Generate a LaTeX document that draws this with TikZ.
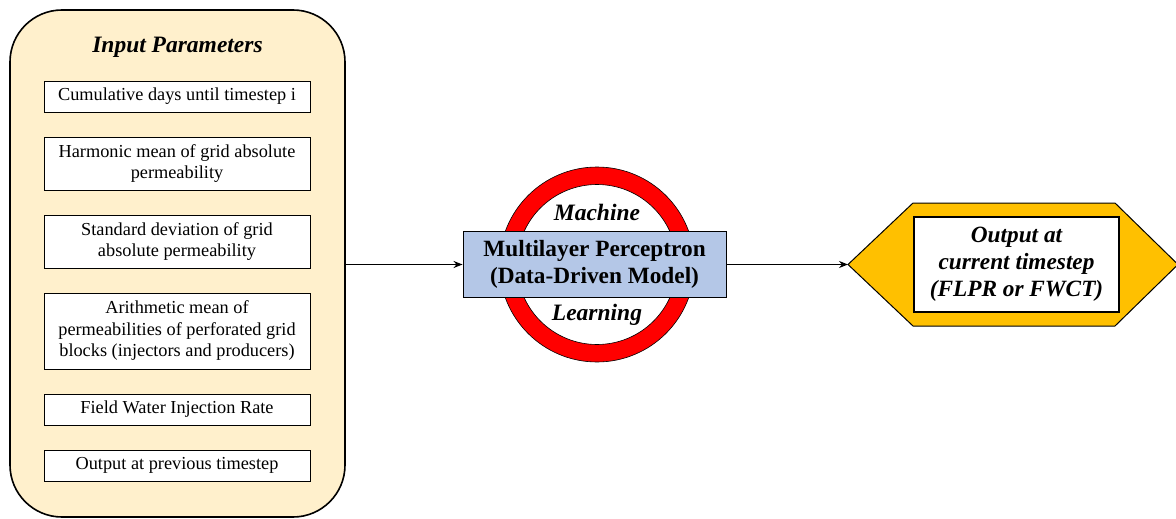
\documentclass[tikz,border=0pt]{standalone}
\usepackage{fontspec}
\setmainfont{Liberation Serif}
\usetikzlibrary{arrows.meta}
\definecolor{panelfill}{HTML}{FFF0CC}
\definecolor{mlpfill}{HTML}{B4C7E7}
\definecolor{ringred}{HTML}{FF0000}
\definecolor{hexfill}{HTML}{FFC000}
\begin{document}
\begin{tikzpicture}[x=1pt,y=-1pt,
  inbox/.style={draw=black, line width=0.9pt, fill=white, minimum width=266pt, align=center, font=\fontsize{18.3}{21.5}\selectfont, inner sep=0pt},
  bigit/.style={font=\fontsize{23.5}{27}\selectfont\bfseries\itshape},
  conn/.style={line width=1.6pt, -{Stealth[length=9pt,width=7pt]}}]
\useasboundingbox (0,0) rectangle (1176,519);
% outer panel
\node[draw=black, line width=1.6pt, fill=panelfill, rounded corners=52pt, minimum width=335pt, minimum height=507pt, inner sep=0pt] (panel) at (177.5,263.5) {};
\node[bigit] (title) at (177.5,47) {Input Parameters};
\node[inbox, minimum height=31pt] (p1) at (177,96.5) {Cumulative days until timestep i};
\node[inbox, minimum height=53pt] (p2) at (177,163.5) {Harmonic mean of grid absolute\\permeability};
\node[inbox, minimum height=53pt] (p3) at (177,241.5) {Standard deviation of grid\\absolute permeability};
\node[inbox, minimum height=76pt] (p4) at (177,331) {Arithmetic mean of\\permeabilities of perforated grid\\blocks (injectors and producers)};
\node[inbox, minimum height=31pt] (p5) at (177,409.5) {Field Water Injection Rate};
\node[inbox, minimum height=31pt] (p6) at (177,465.5) {Output at previous timestep};
% ring
\coordinate (rc) at (597,264.5);
\fill[ringred, even odd rule, draw=black, line width=0.6pt] (rc) circle (97.5) (rc) circle (80);
\node[bigit] (mach) at (597,212) {Machine};
\node[bigit] (learn) at (597,315) {Learning};
\node[draw=black, line width=0.9pt, fill=mlpfill, minimum width=263pt, minimum height=66pt, align=center, inner sep=0pt, font=\fontsize{23.3}{27}\selectfont\bfseries] (mlp) at (594.5,264.5) {Multilayer Perceptron\\(Data-Driven Model)};
% hexagon
\coordinate (hl) at (848,264.5);
\coordinate (hr) at (1178,264.5);
\filldraw[fill=hexfill, draw=black, line width=1pt] (hl) -- (913,203) -- (1115,203) -- (hr) -- (1115,326) -- (913,326) -- cycle;
\node[draw=black, line width=1.2pt, fill=white, minimum width=205pt, minimum height=95pt, align=center, inner sep=0pt, font=\fontsize{23.3}{27}\selectfont\bfseries\itshape] (out) at (1016.5,264.5) {Output at\\current timestep\\(FLPR or FWCT)};
% connectors
\draw[conn] (panel.east |- mlp) -- (mlp.west);
\draw[conn] (mlp.east) -- (hl);
\end{tikzpicture}
\end{document}
